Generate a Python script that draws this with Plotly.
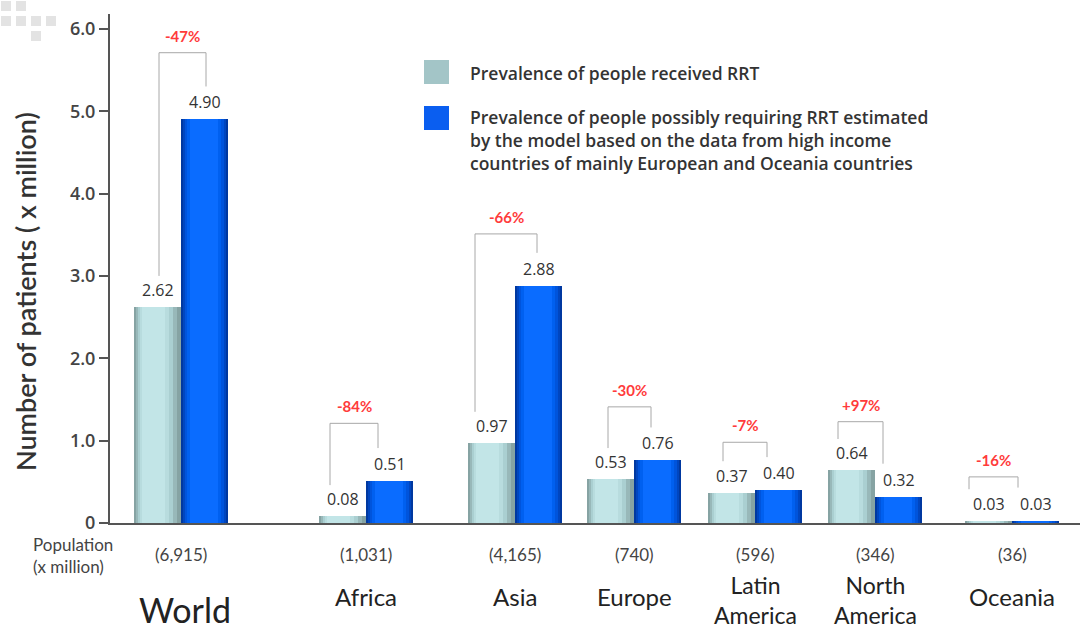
import plotly.graph_objects as go

# ---- data ----
regions = ["World", "Africa", "Asia", "Europe", "Latin<br>America", "North<br>America", "Oceania"]
population = ["(6,915)", "(1,031)", "(4,165)", "(740)", "(596)", "(346)", "(36)"]
received = [2.62, 0.08, 0.97, 0.53, 0.37, 0.64, 0.03]
required = [4.90, 0.51, 2.88, 0.76, 0.40, 0.32, 0.03]
pct_labels = ["-47%", "-84%", "-66%", "-30%", "-7%", "+97%", "-16%"]
series_names = ["Prevalence of people received RRT",
                "Prevalence of people possibly requiring RRT estimated<br>by the model based on the data from high income<br>countries of mainly European and Oceania countries"]
y_ticks = [0, 1, 2, 3, 4, 5, 6]
y_ticktext = ["0", "1.0", "2.0", "3.0", "4.0", "5.0", "6.0"]

# ---- layout helpers (positions/styles, not data) ----
x_pos = [71, 256, 405, 524, 645, 765, 902]
bracket_dx = [(-22, 25), (-36, 12), (-40, 22), (-26, 17), (-32, 12), (-37, 8), (-43, 6)]
bracket_top = [5.71, 1.21, 3.51, 1.41, 0.98, 1.23, 0.56]
W = 47
FONT = "Lato"
FONT2 = "Open Sans"

light_layers = [(0, 0, "#86a3a3"), (2, 4, "#98b8b9"), (4, 8, "#aacfd1"), (6, 12, "#b8dcde"), (8, 16, "#c2e5e7")]
blue_layers = [(0, 0, "#0038a0"), (2, 2, "#0046c0"), (4, 4, "#0054dc"), (6, 7, "#0060f0"), (9, 10, "#0a6cff")]

fig = go.Figure()
for li, ri, col in light_layers:
    fig.add_trace(go.Bar(x=x_pos, y=received, width=W - li - ri, offset=-W + li,
                         marker=dict(color=col, line=dict(width=0)), showlegend=False, hoverinfo="skip"))
for li, ri, col in blue_layers:
    fig.add_trace(go.Bar(x=x_pos, y=required, width=W - li - ri, offset=li,
                         marker=dict(color=col, line=dict(width=0)), showlegend=False, hoverinfo="skip"))

ann = []
shapes = []
for i, xc in enumerate(x_pos):
    v1, v2 = received[i], required[i]
    ann.append(dict(x=xc - W / 2, y=v1, text=f"{v1:.2f}", showarrow=False, yanchor="bottom", yshift=4,
                    font=dict(family=FONT2, size=16, color="#333")))
    ann.append(dict(x=xc + W / 2, y=v2, text=f"{v2:.2f}", showarrow=False, yanchor="bottom", yshift=4,
                    font=dict(family=FONT2, size=16, color="#333")))
    yl = v1 + 0.38
    yr = v2 + 0.40
    top = bracket_top[i]
    xl = xc + bracket_dx[i][0]
    xr = xc + bracket_dx[i][1]
    shapes.append(dict(type="path", xref="x", yref="y",
                       path=f"M {xl},{yl} L {xl},{top} L {xr},{top} L {xr},{yr}",
                       line=dict(color="#a8a8a8", width=1)))
    ann.append(dict(x=(xl + xr) / 2, y=top, text=pct_labels[i], showarrow=False, yanchor="bottom", yshift=6,
                    font=dict(family=FONT, size=15, color="#ff3b3b", weight="bold")))
    ann.append(dict(x=xc, y=0, text=population[i], showarrow=False, yanchor="middle", yshift=-31,
                    font=dict(family=FONT, size=17, color="#444")))
    if i == 0:
        ann.append(dict(x=xc + 4, y=0, text=regions[i], showarrow=False, yanchor="middle", yshift=-86,
                        font=dict(family=FONT, size=34, color="#222")))
    elif "<br>" in regions[i]:
        ann.append(dict(x=xc, y=0, text=regions[i], showarrow=False, yanchor="middle", yshift=-77,
                        font=dict(family=FONT, size=23, color="#222")))
    else:
        ann.append(dict(x=xc, y=0, text=regions[i], showarrow=False, yanchor="middle", yshift=-73,
                        font=dict(family=FONT, size=24, color="#222")))

ann.append(dict(xref="paper", yref="y", x=(31 - 110) / 970, y=0, xanchor="left", yshift=-32,
                text="Population<br>(x million)", align="left", showarrow=False,
                font=dict(family=FONT, size=17, color="#444")))

# y-axis title as rotated annotation
ann.append(dict(xref="paper", yref="paper", x=(25 - 110) / 970, y=(523 - 292) / 509,
                text="Number of patients ( x million)", textangle=-90, showarrow=False,
                xanchor="center", yanchor="middle",
                font=dict(family=FONT, size=27, color="#333", weight=600)))

# legend (manual)
shapes.append(dict(type="rect", xref="paper", yref="paper", x0=(424 - 110) / 970, x1=(449 - 110) / 970,
                   y0=(523 - 84) / 509, y1=(523 - 60) / 509,
                   fillcolor="#a3c5c7", line=dict(width=0)))
shapes.append(dict(type="rect", xref="paper", yref="paper", x0=(424 - 110) / 970, x1=(449 - 110) / 970,
                   y0=(523 - 130) / 509, y1=(523 - 106) / 509,
                   fillcolor="#0a5ef0", line=dict(width=0)))
ann.append(dict(xref="paper", yref="paper", x=(468 - 110) / 970, y=(523 - 73) / 509,
                xanchor="left", yanchor="middle", align="left", showarrow=False, text=series_names[0],
                font=dict(family=FONT2, size=17.5, color="#333", weight=600)))
ann.append(dict(xref="paper", yref="paper", x=(468 - 110) / 970, y=(523 - 103) / 509,
                xanchor="left", yanchor="top", align="left", showarrow=False, text=series_names[1],
                font=dict(family=FONT2, size=17.5, color="#333", weight=600)))

# decorative squares top-left
for (x0, y0) in [(1, 1), (16, 1), (1, 16), (16, 16), (31, 16), (46, 16), (31, 31)]:
    shapes.append(dict(type="rect", xref="paper", yref="paper",
                       x0=(x0 - 110) / 970, x1=(x0 + 10 - 110) / 970,
                       y0=(523 - y0 - 10) / 509, y1=(523 - y0) / 509,
                       fillcolor="#e3e3e3", line=dict(width=0)))

fig.update_layout(
    width=1084, height=629,
    margin=dict(l=110, r=4, t=14, b=106),
    plot_bgcolor="white", paper_bgcolor="white",
    barmode="overlay", bargap=0,
    annotations=ann, shapes=shapes,
    xaxis=dict(range=[0, 970], showticklabels=False, ticks="", showgrid=False, zeroline=False,
               showline=True, linecolor="#555", linewidth=2, fixedrange=True),
    yaxis=dict(range=[0, 6.18], tickvals=y_ticks, ticktext=y_ticktext,
               ticks="outside", ticklen=9, tickwidth=2, tickcolor="#555",
               showgrid=False, zeroline=False, showline=True, linecolor="#555", linewidth=2,
               tickfont=dict(family=FONT2, size=18, color="#444", weight=600), fixedrange=True),
)

fig.write_html("out.html", config={"displayModeBar": False},
               post_script="document.body.style.margin='0';document.body.style.padding='0';document.body.style.overflow='hidden';")
